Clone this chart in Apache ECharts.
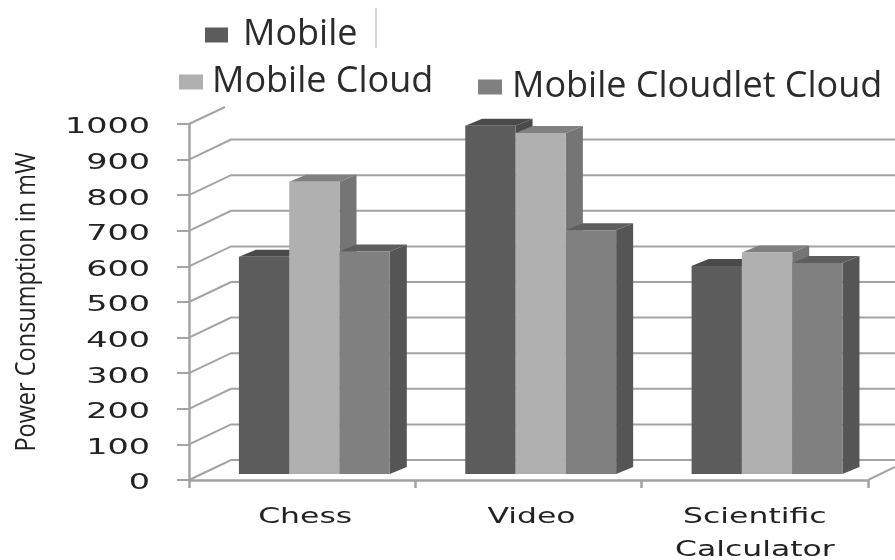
<!DOCTYPE html>
<html><head><meta charset="utf-8">
<style>html,body{margin:0;padding:0;background:#fff}#c{width:895px;height:560px}</style>
<script src="https://cdn.jsdelivr.net/npm/echarts@6/dist/echarts.min.js"></script>
</head><body><div id="c"></div>
<script>
const categories = ['Chess', 'Video', 'Scientific\nCalculator'];
const seriesNames = ['Mobile', 'Mobile Cloud', 'Mobile Cloudlet Cloud'];
const mobile = [610, 978, 584];
const mobileCloud = [821, 958, 622];
const mobileCloudlet = [625, 685, 593];
const yTicks = [0,100,200,300,400,500,600,700,800,900,1000];

const WALL = [42, -20], DEPTH = [17, -7], SHIFT = [12.2, -6], BAR_FRAC = 0.2222;
const GRID = '#a3a3a3';
const FONT = '"DejaVu Sans"';
function legendText(padLeft) {
  return { fontFamily: '"Open Sans"', fontSize: 36, color: '#2b2b2b', padding: [0, 0, 0, padLeft] };
}

function barSeries(name, values, pos, front, top, side) {
  return {
    type: 'custom', name, z: 3, clip: false, silent: true,
    itemStyle: { color: front },
    data: values.map((v, i) => [i, v]),
    encode: { x: 0, y: 1 },
    renderItem(params, api) {
      const p = api.coord([api.value(0), api.value(1)]);
      const base = api.coord([api.value(0), 0]);
      const w = api.size([1, 0])[0] * BAR_FRAC;
      const x = p[0] + (pos - 1.5) * w + SHIFT[0];
      const yt = p[1] + SHIFT[1], yb = base[1] + SHIFT[1];
      const [dx, dy] = DEPTH;
      return { type: 'group', children: [
        { type: 'polygon', shape: { points: [[x + w, yt], [x + w + dx, yt + dy], [x + w + dx, yb + dy], [x + w, yb]] }, style: { fill: side } },
        { type: 'polygon', shape: { points: [[x, yt], [x + w, yt], [x + w + dx, yt + dy], [x + dx, yt + dy]] }, style: { fill: top } },
        { type: 'rect', shape: { x, y: yt, width: w, height: yb - yt }, style: { fill: front } }
      ] };
    }
  };
}

const option = {
  animation: false,
  backgroundColor: '#fff',
  grid: { left: 189, right: 27, top: 124, bottom: 80 },
  xAxis: { type: 'category', data: categories,
    axisLine: { lineStyle: { color: GRID, width: 2.5 } },
    axisTick: { show: true, length: 8, alignWithLabel: false, lineStyle: { color: GRID, width: 2.5 } },
    axisLabel: { show: false }, splitLine: { show: false } },
  yAxis: { type: 'value', min: 0, max: 1000, interval: 100,
    axisLine: { show: true, lineStyle: { color: GRID, width: 2.5 } },
    axisTick: { show: true, length: 12, lineStyle: { color: GRID, width: 2 } },
    axisLabel: { show: false }, splitLine: { show: false } },
  legend: [
    { data: [seriesNames[0]], left: 205, top: 17, padding: 0, icon: 'rect', itemWidth: 23, itemHeight: 15, selectedMode: false, textStyle: legendText(10) },
    { data: [seriesNames[1]], left: 179, top: 64, padding: 0, icon: 'rect', itemWidth: 24, itemHeight: 15, selectedMode: false, textStyle: legendText(4) },
    { data: [seriesNames[2]], left: 478, top: 69, padding: 0, icon: 'rect', itemWidth: 24, itemHeight: 15, selectedMode: false, textStyle: legendText(5) }
  ],
  graphic: [
    { type: 'line', shape: { x1: 376, y1: 8, x2: 376, y2: 48 }, style: { stroke: '#aaaaaa', lineWidth: 1 } },
    { type: 'text', x: 27, y: 302, rotation: Math.PI / 2, scaleX: 0.87,
      style: { text: 'Power Consumption in mW', fontFamily: '"Open Sans"', fontSize: 27, fill: '#222', align: 'center', verticalAlign: 'middle' } }
  ],
  series: [
    { type: 'custom', name: 'wall', z: 1, clip: false, silent: true,
      data: yTicks.map(v => [0, v]), encode: { x: 0, y: 1 },
      renderItem(params, api) {
        const cs = params.coordSys;
        const val = api.value(1);
        const y = api.coord([0, val])[1];
        const x0 = cs.x;
        const s = { stroke: GRID, lineWidth: 2, fill: null };
        if (val === 1000) {
          return { type: 'polyline', shape: { points: [[x0, y], [x0 + 36, y - 17]] }, style: s };
        }
        const children = [{ type: 'polyline', shape: { points: [[x0, y], [x0 + WALL[0], y + WALL[1]], [895, y + WALL[1]]] }, style: s }];
        if (val === 0) {
          children.push({ type: 'polyline', shape: { points: [[x0 + cs.width, y], [895, y - 13]] }, style: s });
        }
        return { type: 'group', children };
      } },
    barSeries(seriesNames[0], mobile, 0, '#5c5c5c', '#4a4a4a', '#4a4a4a'),
    barSeries(seriesNames[1], mobileCloud, 1, '#b0b0b0', '#808080', '#757575'),
    barSeries(seriesNames[2], mobileCloudlet, 2, '#808080', '#5e5e5e', '#555555'),
    { type: 'custom', name: 'yLabels', z: 4, clip: false, silent: true,
      data: yTicks.map(v => [0, v]), encode: { x: 0, y: 1 },
      renderItem(params, api) {
        const y = api.coord([0, api.value(1)])[1];
        return { type: 'text', x: params.coordSys.x - 39, y: y + 4, scaleX: 1.63,
          style: { text: String(api.value(1)), fontFamily: FONT, fontSize: 20.5, fill: '#222', align: 'right', verticalAlign: 'middle' } };
      } },
    { type: 'custom', name: 'xLabels', z: 4, clip: false, silent: true,
      data: categories.map((c, i) => [i, 0]), encode: { x: 0, y: 1 },
      renderItem(params, api) {
        const i = api.value(0);
        const p = api.coord([i, 0]);
        return { type: 'text', x: p[0] + (i === 2 ? 0 : 3), y: p[1] + 21, scaleX: 1.43,
          style: { text: categories[i], fontFamily: FONT, fontSize: 22, lineHeight: 33, fill: '#222', align: 'center', verticalAlign: 'top' } };
      } }
  ]
};
echarts.init(document.getElementById('c')).setOption(option);
</script></body></html>
